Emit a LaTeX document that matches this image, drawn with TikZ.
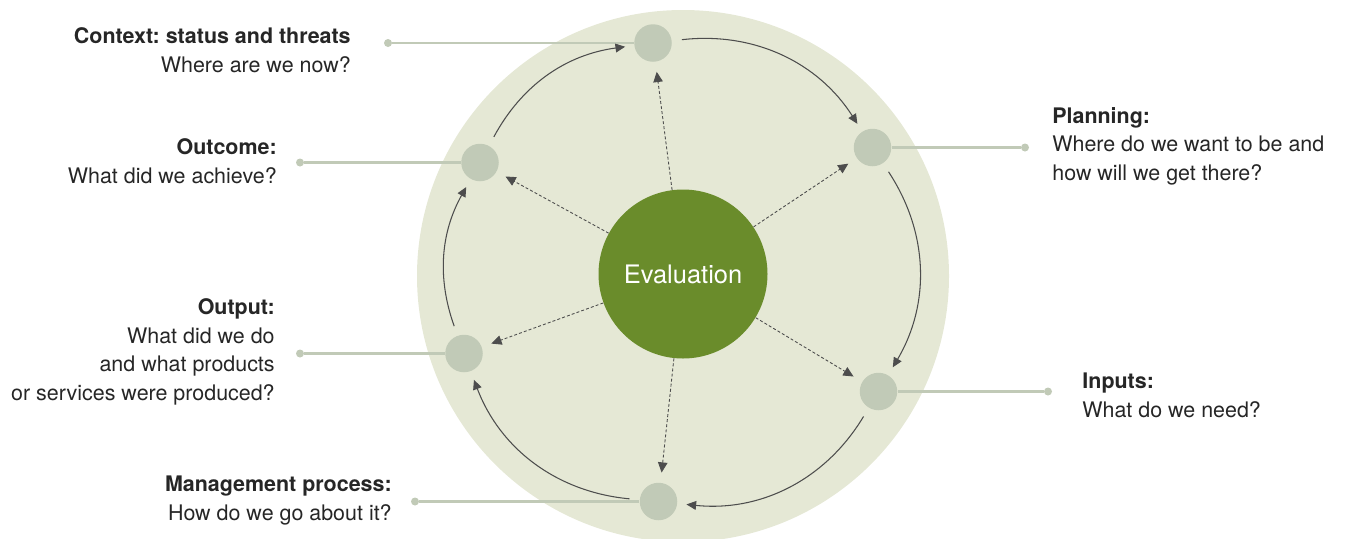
\documentclass[tikz,border=0pt]{standalone}
\usepackage{fontspec}
\setmainfont{TeX Gyre Heros}
\frenchspacing
\usetikzlibrary{arrows.meta}

\definecolor{ringfill}{HTML}{E5E8D5}
\definecolor{stagefill}{HTML}{C1CAB7}
\definecolor{evalgreen}{HTML}{6A8C2B}
\definecolor{arrowgrey}{HTML}{4D4D4D}
\definecolor{textgrey}{HTML}{262626}

\tikzset{
  stagecirc/.style={circle, fill=stagefill, minimum size=0.75cm, inner sep=0pt},
  enddot/.style={circle, fill=stagefill, minimum size=0.16cm, inner sep=0pt},
  leader/.style={draw=stagefill, line width=1.15pt},
  ringarrow/.style={draw=arrowgrey, line width=0.6pt, -{Triangle[length=5.5pt,width=5pt]},
    shorten <=0.2cm, shorten >=0.18cm},
  feed/.style={draw=arrowgrey, line width=0.5pt, dash pattern=on 1.7pt off 1.2pt,
    -{Triangle[length=5.8pt,width=5.4pt]}, shorten >=0.2cm},
  captext/.style={font=\fontsize{12.2}{16.3}\selectfont, text=textgrey, inner sep=0pt},
}

\begin{document}
\begin{tikzpicture}
  \useasboundingbox (0,0) rectangle (26.9,-10.76);

  % background ring
  \fill[ringfill] (13.66,-5.52) circle (5.32);

  % stages
  \node[circle, fill=evalgreen, minimum size=3.38cm, inner sep=0pt, text=white,
        font=\fontsize{14.5}{17}\selectfont] (eval) at (13.66,-5.48) {Evaluation};

  \node[stagecirc] (ctx)  at (13.06,-0.86) {};
  \node[stagecirc] (plan) at (17.45,-2.95) {};
  \node[stagecirc] (inp)  at (17.57,-7.83) {};
  \node[stagecirc] (mgmt) at (13.17,-10.03) {};
  \node[stagecirc] (outp) at (9.28,-7.07) {};
  \node[stagecirc] (outc) at (9.60,-3.25) {};

  % leader dots
  \node[enddot] (ctxdot)  at (7.76,-0.86) {};
  \node[enddot] (plandot) at (20.50,-2.95) {};
  \node[enddot] (inpdot)  at (20.96,-7.83) {};
  \node[enddot] (mgmtdot) at (8.30,-10.03) {};
  \node[enddot] (outpdot) at (6.00,-7.07) {};
  \node[enddot] (outcdot) at (6.00,-3.25) {};

  \draw[leader] (ctxdot) -- (ctx);
  \draw[leader] (plan) -- (plandot);
  \draw[leader] (inp) -- (inpdot);
  \draw[leader] (mgmtdot) -- (mgmt);
  \draw[leader] (outpdot) -- (outp);
  \draw[leader] (outcdot) -- (outc);

  % the cycle
  \draw[ringarrow] (ctx)  to[bend left=32]   (plan);
  \draw[ringarrow] (plan) to[bend left=32]   (inp);
  \draw[ringarrow] (inp)  to[bend left=32.5] (mgmt);
  \draw[ringarrow] (mgmt) to[bend left=32]   (outp);
  \draw[ringarrow] (outp) to[bend left=24.5] (outc);
  \draw[ringarrow] (outc) to[bend left=27]   (ctx);

  % evaluation feeds every stage
  \foreach \s in {ctx, plan, inp, mgmt, outp, outc}
    \draw[feed] (eval) -- (\s);

  % captions (placed at the baseline of their last line)
  \node[captext, anchor=base east, align=right] (ctxtext) at (7.02,-1.44)
    {\textbf{Context: status and threats}\\Where are we now?};
  \node[captext, anchor=base east, align=right] (outctext) at (5.54,-3.67)
    {\textbf{Outcome:}\\What did we achieve?};
  \node[captext, anchor=base east, align=right] (outptext) at (5.50,-8.01)
    {\textbf{Output:}\\What did we do\\and what products\\or services were produced?};
  \node[captext, anchor=base east, align=right] (mgmttext) at (7.84,-10.40)
    {\textbf{Management process:}\\How do we go about it?};
  \node[captext, anchor=base west, align=left] (plantext) at (21.04,-3.61)
    {\textbf{Planning:}\\Where do we want to be and\\how will we get there?};
  \node[captext, anchor=base west, align=left] (inptext) at (21.64,-8.34)
    {\textbf{Inputs:}\\What do we need?};
\end{tikzpicture}
\end{document}
